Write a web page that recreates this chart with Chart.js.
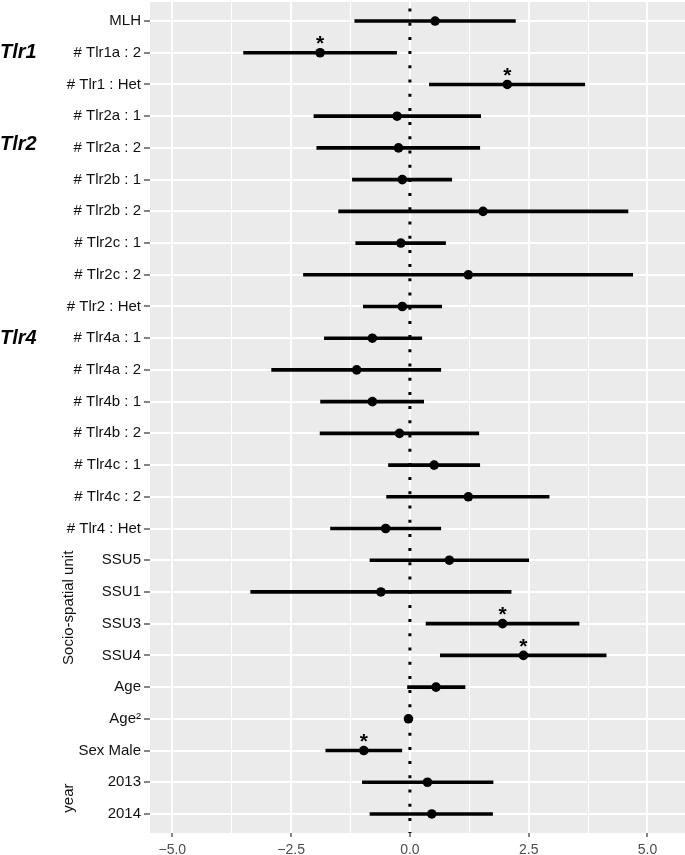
<!DOCTYPE html>
<html>
<head>
<meta charset="utf-8">
<script src="https://cdn.jsdelivr.net/npm/chart.js@4/dist/chart.umd.min.js"></script>
<style>html,body{margin:0;padding:0;background:#fff}</style>
</head>
<body>
<canvas id="forest" width="685" height="855"></canvas>
<script>
// rows, top to bottom
const labels = ['MLH', '# Tlr1a : 2', '# Tlr1 : Het', '# Tlr2a : 1', '# Tlr2a : 2', '# Tlr2b : 1',
  '# Tlr2b : 2', '# Tlr2c : 1', '# Tlr2c : 2', '# Tlr2 : Het', '# Tlr4a : 1', '# Tlr4a : 2',
  '# Tlr4b : 1', '# Tlr4b : 2', '# Tlr4c : 1', '# Tlr4c : 2', '# Tlr4 : Het', 'SSU5', 'SSU1',
  'SSU3', 'SSU4', 'Age', 'Age²', 'Sex Male', '2013', '2014']
const estimate = [0.53, -1.89, 2.05, -0.27, -0.24, -0.16, 1.54, -0.19, 1.23, -0.16, -0.79, -1.12,
  -0.79, -0.22, 0.51, 1.23, -0.51, 0.83, -0.61, 1.95, 2.39, 0.55, -0.03, -0.97, 0.37, 0.46]
const lower = [-1.16, -3.50, 0.41, -2.02, -1.96, -1.21, -1.50, -1.14, -2.24, -0.98, -1.80, -2.91,
  -1.88, -1.89, -0.45, -0.49, -1.67, -0.84, -3.35, 0.34, 0.64, -0.05, -0.05, -1.77, -1.00, -0.84]
const upper = [2.22, -0.28, 3.68, 1.49, 1.47, 0.88, 4.59, 0.75, 4.69, 0.67, 0.25, 0.65,
  0.29, 1.45, 1.47, 2.93, 0.65, 2.50, 2.13, 3.56, 4.13, 1.16, -0.01, -0.17, 1.75, 1.74]
const signif = [false, true, true, false, false, false, false, false, false, false, false, false,
  false, false, false, false, false, false, false, true, true, false, false, true, false, false]
const xTicks = [-5, -3.75, -2.5, -1.25, 0, 1.25, 2.5, 3.75, 5]
const groups = [['Tlr1', 1], ['Tlr2', 3.9], ['Tlr4', 10]]
const sideTitles = [['Socio-spatial unit', 17, 20], ['year', 24, 25]]

const FONT = '"Liberation Sans", Arial, sans-serif'
Chart.defaults.font.family = FONT
const isMajor = v => Math.abs(v % 2.5) < 1e-9

const decor = {
  id: 'decor',
  beforeDraw(chart) {
    const { ctx, chartArea: a } = chart
    ctx.save()
    ctx.fillStyle = '#ebebeb'
    ctx.fillRect(a.left, a.top, a.right - a.left, a.bottom - a.top)
    ctx.restore()
  },
  afterDraw(chart) {
    const ctx = chart.ctx
    const y = chart.scales.y
    const pts = chart.getDatasetMeta(0).data
    ctx.save()
    ctx.fillStyle = '#000'
    // significance stars
    ctx.font = 'bold 21px ' + FONT
    ctx.textAlign = 'center'
    ctx.textBaseline = 'alphabetic'
    signif.forEach((s, i) => { if (s) ctx.fillText('*', pts[i].x, pts[i].y - 2.5) })
    // gene group labels
    ctx.font = 'italic bold 20px ' + FONT
    ctx.textAlign = 'left'
    ctx.textBaseline = 'middle'
    groups.forEach(([t, r]) => ctx.fillText(t, 0, y.getPixelForValue(r)))
    // rotated side titles
    ctx.font = '15px ' + FONT
    ctx.fillStyle = '#111'
    ctx.textAlign = 'center'
    sideTitles.forEach(([t, a, b]) => {
      const cy = (y.getPixelForValue(a) + y.getPixelForValue(b)) / 2
      ctx.save()
      ctx.translate(69, cy)
      ctx.rotate(-Math.PI / 2)
      ctx.fillText(t, 0, 0)
      ctx.restore()
    })
    ctx.restore()
  }
}

new Chart(document.getElementById('forest'), {
  type: 'scatter',
  data: {
    datasets: [
      {
        data: estimate.map((v, i) => ({ x: v, y: i })),
        backgroundColor: '#000',
        borderWidth: 0,
        pointRadius: 4.8,
        order: 0
      },
      {
        type: 'bar',
        indexAxis: 'y',
        data: labels.map((_, i) => ({ x: [lower[i], upper[i]], y: i })),
        backgroundColor: '#000',
        barThickness: 3,
        order: 1
      },
      {
        // dotted zero line
        showLine: true,
        data: [{ x: 0, y: -0.6 }, { x: 0, y: 25.6 }],
        borderColor: '#000',
        borderWidth: 3,
        borderDash: [3, 11.2],
        borderDashOffset: 7.7,
        pointRadius: 0,
        order: 2
      }
    ]
  },
  options: {
    responsive: false,
    animation: false,
    layout: { autoPadding: false, padding: { top: 2, right: 0, left: 0, bottom: 0 } },
    plugins: { legend: { display: false }, tooltip: { enabled: false } },
    scales: {
      x: {
        type: 'linear',
        min: -5.47,
        max: 5.79,
        offset: false,
        afterBuildTicks: ax => { ax.ticks = xTicks.map(v => ({ value: v })) },
        afterFit: ax => { ax.height = 22; ax.paddingLeft = 0; ax.paddingRight = 0 },
        ticks: {
          autoSkip: false,
          maxRotation: 0,
          padding: 5,
          color: '#4d4d4d',
          font: { size: 14 },
          callback: v => isMajor(v) ? v.toFixed(1).replace('-', '−') : ''
        },
        grid: {
          offset: false,
          color: '#fff',
          lineWidth: c => c.tick && isMajor(c.tick.value) ? 2 : 1,
          tickLength: 4,
          tickWidth: 1.2,
          tickColor: c => c.tick && isMajor(c.tick.value) ? '#333' : 'rgba(0,0,0,0)'
        },
        border: { display: false }
      },
      y: {
        type: 'linear',
        reverse: true,
        min: -0.6,
        max: 25.6,
        offset: false,
        afterBuildTicks: ax => { ax.ticks = labels.map((_, i) => ({ value: i })) },
        afterFit: ax => { ax.width = 150; ax.paddingTop = 0; ax.paddingBottom = 0 },
        ticks: {
          autoSkip: false,
          padding: 3,
          color: '#111',
          font: { size: 15 },
          callback: v => labels[v]
        },
        grid: { offset: false, color: '#fff', lineWidth: 2, tickLength: 6, tickWidth: 1.2, tickColor: '#333' },
        border: { display: false }
      }
    }
  },
  plugins: [decor]
})
</script>
</body>
</html>
